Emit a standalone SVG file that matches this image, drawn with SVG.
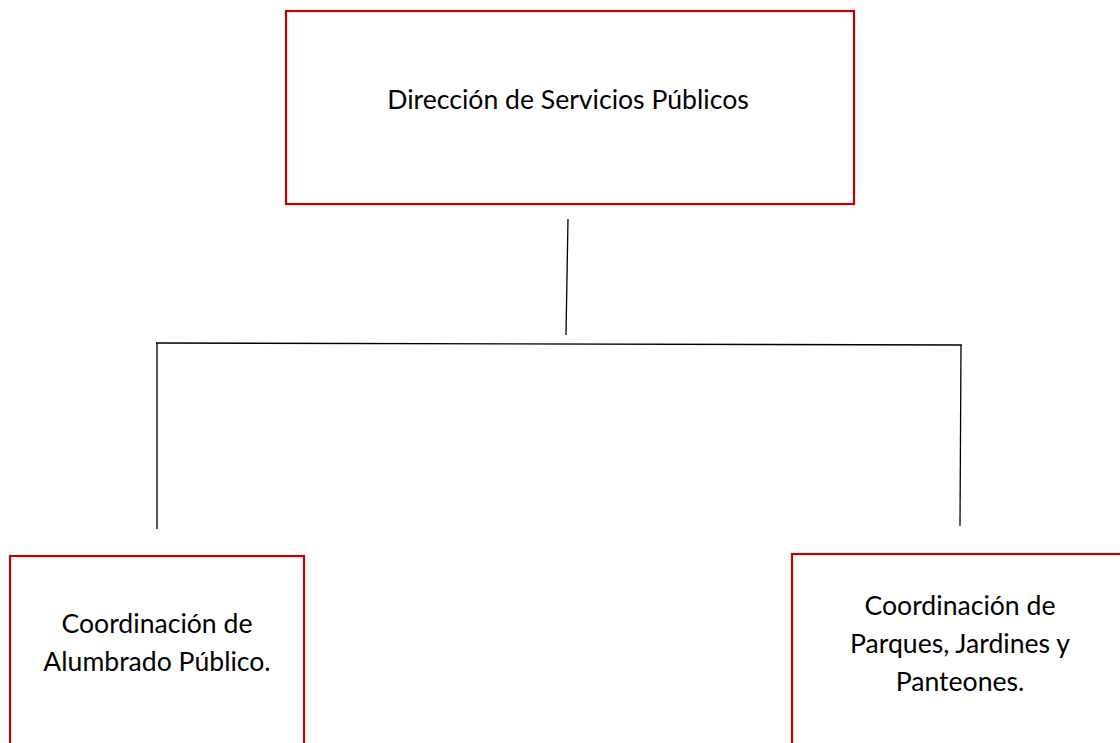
<svg xmlns="http://www.w3.org/2000/svg" width="1120" height="743" viewBox="0 0 1120 743">
<style>
.box{fill:#fff;stroke:#c00000;stroke-width:2.2}
.t{font-family:Lato,"Open Sans","Liberation Sans",sans-serif;font-size:26.6px;fill:#000;text-anchor:middle}
.c{stroke:#000;stroke-width:1.3;fill:none}
</style>
<rect width="1120" height="743" fill="#fff"/>
<g id="connectors">
<line class="c" x1="568" y1="219" x2="566" y2="335"/>
<line class="c" x1="156" y1="343" x2="962" y2="345"/>
<line class="c" x1="157" y1="343" x2="157" y2="529"/>
<line class="c" x1="961" y1="345" x2="960" y2="526"/>
</g>
<g id="n1">
<rect class="box" x="286" y="11" width="568" height="193"/>
<text class="t" x="568" y="109">Dirección de Servicios Públicos</text>
</g>
<g id="n2">
<rect class="box" x="10" y="556" width="294" height="200"/>
<text class="t" x="157" y="633">Coordinación de</text>
<text class="t" x="157" y="671">Alumbrado Público.</text>
</g>
<g id="n3">
<rect class="box" x="792" y="554" width="340" height="200"/>
<text class="t" x="960" y="615">Coordinación de</text>
<text class="t" x="960" y="653">Parques, Jardines y</text>
<text class="t" x="960" y="691">Panteones.</text>
</g>
</svg>
